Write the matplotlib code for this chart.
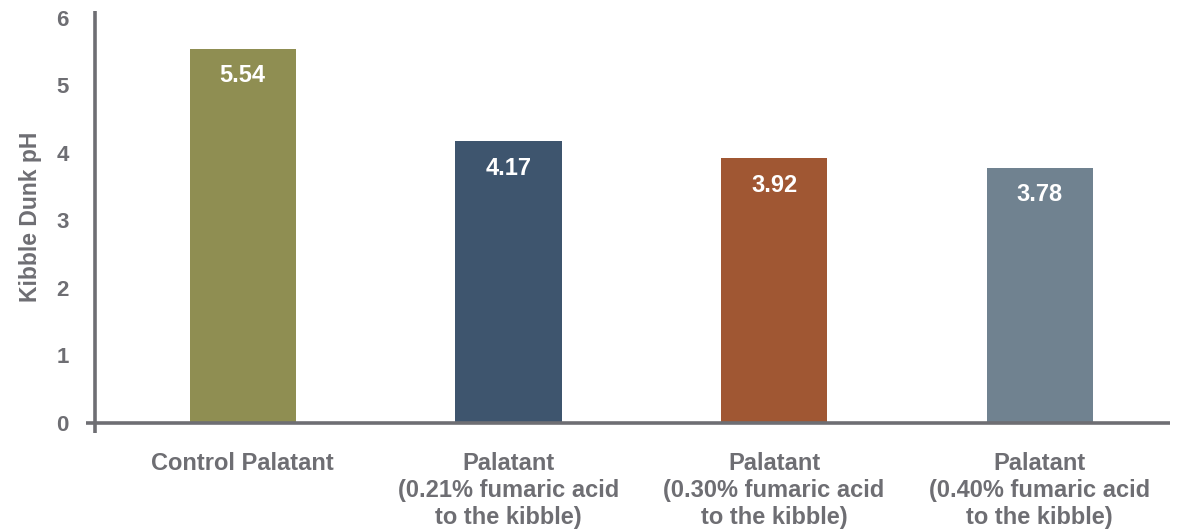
import matplotlib
matplotlib.use("Agg")
import matplotlib.pyplot as plt
import matplotlib.transforms as mtransforms

categories = [
    "Control Palatant",
    "Palatant\n(0.21% fumaric acid\nto the kibble)",
    "Palatant\n(0.30% fumaric acid\nto the kibble)",
    "Palatant\n(0.40% fumaric acid\nto the kibble)",
]
values = [5.54, 4.17, 3.92, 3.78]
value_labels = ["5.54", "4.17", "3.92", "3.78"]
bar_colors = ["#8F8E52", "#3E556E", "#A05733", "#708290"]
y_ticks = [0, 1, 2, 3, 4, 5, 6]
y_label = "Kibble Dunk pH"

grey = "#6E6E73"
plt.rcParams["font.family"] = ["Liberation Sans", "DejaVu Sans"]
plt.rcParams["font.weight"] = "bold"

fig = plt.figure(figsize=(11.82, 5.31), dpi=100)
ax = fig.add_axes([0.0804, 0.2034, 0.9094, 0.7759])

x = list(range(len(categories)))
bars = ax.bar(x, values, width=0.4, color=bar_colors, zorder=2)

for rect, lab in zip(bars, value_labels):
    ax.annotate(lab, (rect.get_x() + rect.get_width() / 2, rect.get_height()),
                xytext=(0, -27), textcoords="offset pixels",
                ha="center", va="center", color="white",
                fontsize=17, fontweight="bold")

ax.set_xlim(-0.556, 3.49)
ax.set_ylim(0, 6.1)

for s in ax.spines.values():
    s.set_visible(False)

# axis lines, with the small overhang at the origin
lw = 2.6
tr_y = mtransforms.blended_transform_factory(ax.transAxes, ax.transData)
ax.plot([0, 0], [-0.15, 6.1], transform=tr_y, color=grey, lw=lw,
        clip_on=False, solid_capstyle="butt", zorder=3)
ax.plot([-0.008, 1], [0, 0], transform=tr_y, color=grey, lw=lw,
        clip_on=False, solid_capstyle="butt", zorder=3)

ax.set_yticks(y_ticks)
ax.set_yticklabels([str(t) for t in y_ticks])
ax.tick_params(axis="y", length=0, pad=19, labelsize=16, labelcolor=grey)
ax.set_xticks(x)
ax.set_xticklabels(categories, linespacing=1.22)
ax.tick_params(axis="x", length=0, pad=21, labelsize=17, labelcolor=grey)
for t in ax.get_xticklabels() + ax.get_yticklabels():
    t.set_fontweight("bold")

ax.set_ylabel(y_label, fontsize=16.5, color=grey, fontweight="bold", labelpad=10)

fig.savefig("out.png", dpi=100)
